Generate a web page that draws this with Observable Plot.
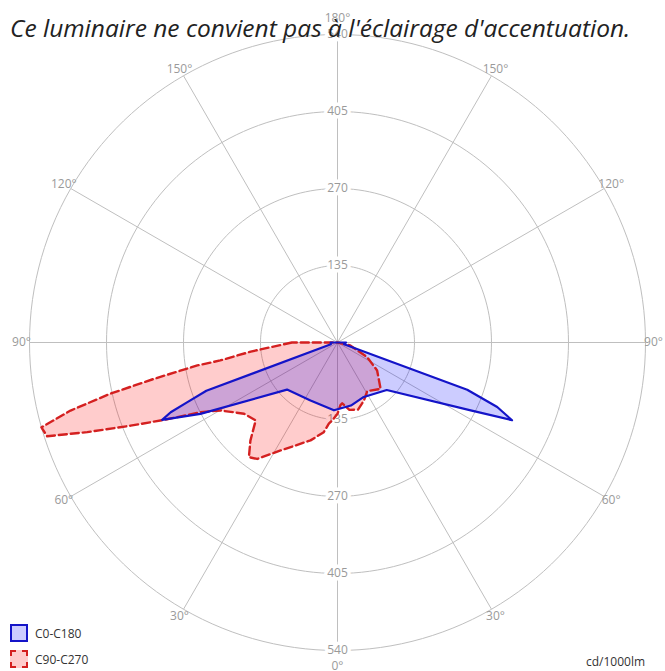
<!DOCTYPE html>
<html>
<head>
<meta charset="utf-8">
<script src="https://cdn.jsdelivr.net/npm/d3@7"></script>
<script src="https://cdn.jsdelivr.net/npm/@observablehq/plot@0.6"></script>
<style>
  body { margin: 0; background: #fff; }
  #wrap { position: relative; width: 665px; height: 671px; overflow: hidden; }
  #title { position: absolute; left: 10px; top: 11px; font: italic 24.5px "Open Sans", sans-serif; color: #222; white-space: nowrap; }
  .leg { position: absolute; left: 10px; font: 12px "Open Sans", sans-serif; color: #333; display: flex; align-items: center; }
  .sw { width: 18px; height: 18px; margin-right: 7px; box-sizing: border-box; }
  #unit { position: absolute; left: 586px; top: 653px; font: 12px "Open Sans", sans-serif; color: #333; }
</style>
</head>
<body>
<div id="wrap">
  <div id="chart"></div>
  <div id="title"></div>
  <div class="leg" id="leg0" style="top:624px"><div class="sw" style="background:#ccccff;border:2px solid #1414c8"></div><span></span></div>
  <div class="leg" id="leg1" style="top:650px"><div class="sw" style="background:#ffcccc;border:2px dashed #d42020"></div><span></span></div>
  <div id="unit"></div>
</div>
<script>
// ---- data ----
const titleText = "Ce luminaire ne convient pas à l'éclairage d'accentuation.";
const seriesNames = ["C0-C180", "C90-C270"];
const unitLabel = "cd/1000lm";
const ringValues = [135, 270, 405, 540];
const angleTicks = [0, 30, 60, 90, 120, 150, 180];

// C0-C180 : gamma (deg, negative = left half-plane), intensity (cd/1000lm)
const c0Angles = [-90, -75, -69.8, -68.3, -67.3, -66.2, -62.5, -47, -25, -3, 12, 25, 46, 63, 66, 68, 70, 75, 90];
const c0Values = [12, 12, 245, 284, 317, 336, 271, 121, 112, 119, 113, 106, 120, 262, 335, 302, 242, 12, 15];

// C90-C270
const c90Angles = [-90, -84, -81.3, -80.7, -78.8, -77.3, -75.7, -74, -72.1, -70.3, -68.1, -66, -63, -59.8, -52.7, -46.4, -41.6, -37.7, -34.6, -27.8, -15.4, -8.7, -6.1, -3.9, 0, 2.7, 4.4, 10, 17, 24.4, 31.4, 42.9, 54.8, 63.7, 77, 90];
const c90Values = [80, 153, 208, 249, 328, 408, 483, 540, 535, 466, 391, 334, 269, 237, 206, 198, 230, 254, 248, 214, 178, 159, 143, 137, 125, 110, 107, 120, 123, 112, 100, 111, 85, 58, 23, 0];

// ---- build ----
document.getElementById("title").textContent = titleText;
document.querySelector("#leg0 span").textContent = seriesNames[0];
document.querySelector("#leg1 span").textContent = seriesNames[1];
document.getElementById("unit").textContent = unitLabel;

const rad = Math.PI / 180;
const W = 665, H = 671, cx = 337, cy = 342, R = 308;
const maxV = ringValues[ringValues.length - 1];
const k = R / maxV; // px per unit
const px = (g, v) => v * Math.sin(g * rad);
const py = (g, v) => -v * Math.cos(g * rad);

const c0 = c0Angles.map((g, i) => ({g, v: c0Values[i]}));
const c90 = c90Angles.map((g, i) => ({g, v: c90Values[i]}));

const circlePts = ringValues.flatMap(v => d3.range(0, 361, 2).map(g => ({g, v})));
const spokes = d3.range(-150, 181, 30);
const angleLabels = angleTicks.flatMap(t => (t === 0 || t === 180) ? [{g: t, t}] : [{g: t, t}, {g: -t, t}]);
const radialLabels = ringValues.flatMap(v => [{g: 180, v}, {g: 0, v}]);

const labR = g => (Math.abs(g) === 0 || Math.abs(g) === 180) ? 324 / k : 316 / k;

const chart = Plot.plot({
  width: W, height: H,
  margin: 0,
  x: {domain: [-cx / k, (W - cx) / k], axis: null},
  y: {domain: [-(H - cy) / k, cy / k], axis: null},
  style: {fontFamily: "Open Sans, sans-serif", background: "white"},
  marks: [
    Plot.line(circlePts, {x: d => px(d.g, d.v), y: d => py(d.g, d.v), z: "v", stroke: "#bfbfbf", strokeWidth: 1}),
    Plot.link(spokes, {x1: 0, y1: 0, x2: g => px(g, maxV), y2: g => py(g, maxV), stroke: "#bfbfbf", strokeWidth: 1}),
    Plot.text(radialLabels, {x: d => px(d.g, d.v), y: d => py(d.g, d.v), text: d => String(d.v), fill: "#9a9a9a", stroke: "white", strokeWidth: 7, fontSize: 12}),
    Plot.text(angleLabels, {
      x: d => px(d.g, labR(d.g)), y: d => py(d.g, labR(d.g)),
      text: d => d.t + "°",
      textAnchor: d => d.g === 0 || Math.abs(d.g) === 180 ? "middle" : (d.g < 0 ? "end" : "start"),
      fill: "#9a9a9a", fontSize: 12
    }),
    Plot.line(c90, {x: d => px(d.g, d.v), y: d => py(d.g, d.v), curve: "linear-closed", fill: "rgba(255,0,0,0.2)", stroke: "none"}),
    Plot.line(c0, {x: d => px(d.g, d.v), y: d => py(d.g, d.v), curve: "linear-closed", fill: "rgba(0,0,255,0.2)", stroke: "none"}),
    Plot.line(c90, {x: d => px(d.g, d.v), y: d => py(d.g, d.v), curve: "linear-closed", stroke: "#d42020", strokeWidth: 2.4, strokeDasharray: "8,4"}),
    Plot.line(c0, {x: d => px(d.g, d.v), y: d => py(d.g, d.v), curve: "linear-closed", stroke: "#1414c8", strokeWidth: 2.2})
  ]
});
document.getElementById("chart").appendChild(chart);
</script>
</body>
</html>
